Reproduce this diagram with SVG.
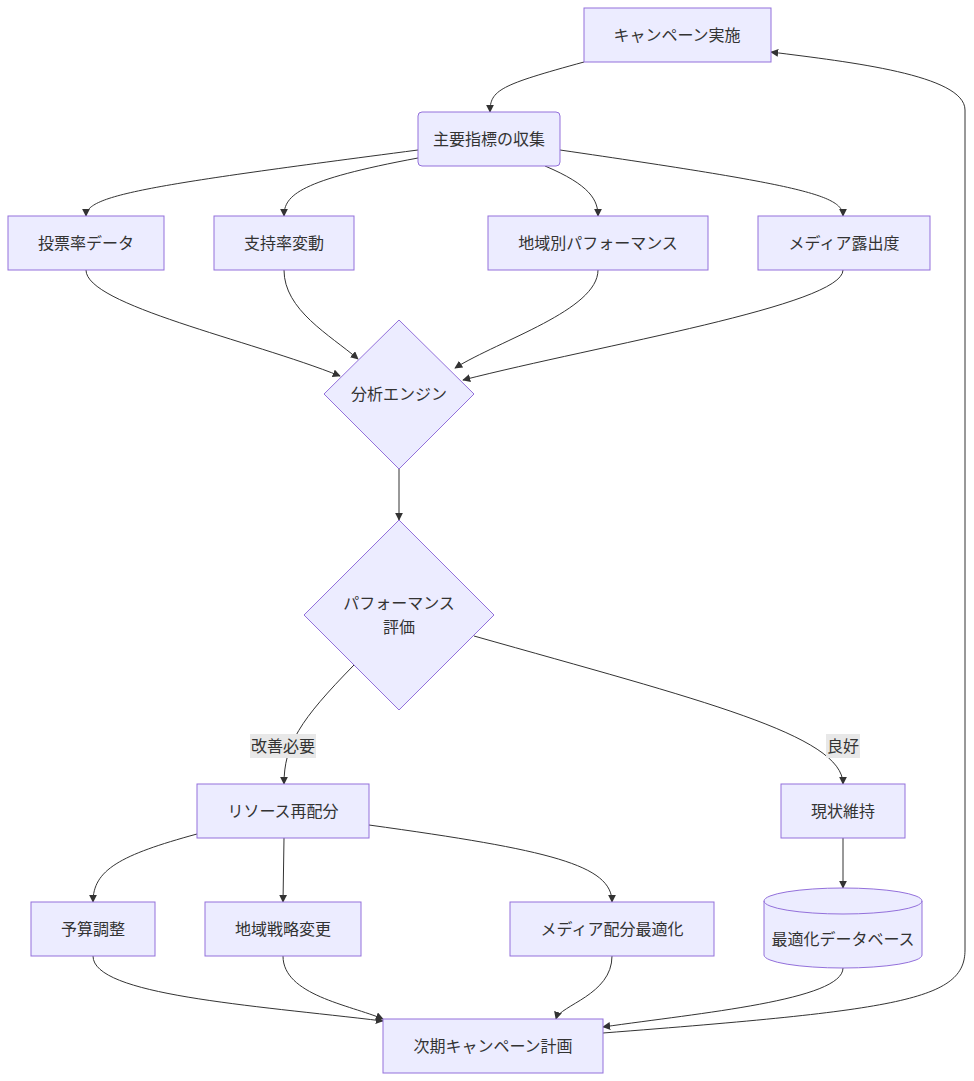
<svg xmlns="http://www.w3.org/2000/svg" width="974" height="1081" viewBox="0 0 974 1081">
<style>
.n{fill:#ECECFF;stroke:#9370DB;stroke-width:1}
.t{font-family:"Liberation Sans","Noto Sans CJK JP",sans-serif;font-size:16px;fill:#333;text-anchor:middle;dominant-baseline:central}
.e{fill:none;stroke:#333;stroke-width:1}
.lb{fill:#e8e8e8}
</style>
<defs><marker id="a" viewBox="0 0 10 10" refX="9" refY="5" markerWidth="8" markerHeight="8" orient="auto"><path d="M0,0L10,5L0,10z" fill="#333"/></marker></defs>
<rect width="974" height="1081" fill="#fff"/>
<g id="edges">
<path class="e" marker-end="url(#a)" d="M584,62 C500,85 490,90 490,112"/>
<path class="e" marker-end="url(#a)" d="M418,150 C150,185 86,195 86,216"/>
<path class="e" marker-end="url(#a)" d="M418,158 C300,180 284,195 284,216"/>
<path class="e" marker-end="url(#a)" d="M545,166 C590,185 598,200 598,216"/>
<path class="e" marker-end="url(#a)" d="M560,150 C800,185 843,195 843,216"/>
<path class="e" marker-end="url(#a)" d="M86,270 C86,305 250,340 340,376"/>
<path class="e" marker-end="url(#a)" d="M284,270 C284,310 330,335 358,359"/>
<path class="e" marker-end="url(#a)" d="M598,270 C598,310 500,340 455,368"/>
<path class="e" marker-end="url(#a)" d="M843,270 C843,305 600,345 463,380"/>
<path class="e" marker-end="url(#a)" d="M399,469 L399,520"/>
<path class="e" marker-end="url(#a)" d="M354,665 C300,720 284,745 284,784"/>
<path class="e" marker-end="url(#a)" d="M474,636 C700,700 843,735 843,784"/>
<path class="e" marker-end="url(#a)" d="M197,834 C120,855 93,870 93,902"/>
<path class="e" marker-end="url(#a)" d="M284,838 L283,902"/>
<path class="e" marker-end="url(#a)" d="M369,825 C550,850 612,865 612,902"/>
<path class="e" marker-end="url(#a)" d="M843,838 L843,888"/>
<path class="e" marker-end="url(#a)" d="M93,956 C93,995 250,1005 383,1021"/>
<path class="e" marker-end="url(#a)" d="M283,956 C283,995 350,1005 383,1019"/>
<path class="e" marker-end="url(#a)" d="M612,956 C612,995 560,1005 556,1019"/>
<path class="e" marker-end="url(#a)" d="M843,968 C843,1000 700,1013 603,1027"/>
<path class="e" marker-end="url(#a)" d="M603,1033 C900,1010 965,1000 965,950 L965,110 C965,75 850,62 771,52"/>
<rect class="lb" x="250" y="734" width="66" height="24"/><text class="t" x="283" y="746">改善必要</text>
<rect class="lb" x="826" y="734" width="34" height="24"/><text class="t" x="843" y="746">良好</text>
</g>
<g id="n1"><rect class="n" x="584" y="8" width="187" height="54"/><text class="t" x="677" y="35">キャンペーン実施</text></g>
<g id="n2"><rect class="n" x="418" y="112" width="142" height="54" rx="4"/><text class="t" x="489" y="139">主要指標の収集</text></g>
<g id="n3"><rect class="n" x="8" y="216" width="156" height="54"/><text class="t" x="86" y="243">投票率データ</text></g>
<g id="n4"><rect class="n" x="214" y="216" width="140" height="54"/><text class="t" x="284" y="243">支持率変動</text></g>
<g id="n5"><rect class="n" x="488" y="216" width="220" height="54"/><text class="t" x="598" y="243">地域別パフォーマンス</text></g>
<g id="n6"><rect class="n" x="758" y="216" width="172" height="54"/><text class="t" x="844" y="243">メディア露出度</text></g>
<g id="n7"><polygon class="n" points="399,320 474,394 399,469 324,394"/><text class="t" x="399" y="394">分析エンジン</text></g>
<g id="n8"><polygon class="n" points="399,520 494,615 399,710 304,615"/><text class="t" x="399" y="603">パフォーマンス</text><text class="t" x="399" y="627">評価</text></g>
<g id="n9"><rect class="n" x="197" y="784" width="172" height="54"/><text class="t" x="283" y="811">リソース再配分</text></g>
<g id="n10"><rect class="n" x="781" y="784" width="124" height="54"/><text class="t" x="843" y="811">現状維持</text></g>
<g id="n11"><rect class="n" x="31" y="902" width="124" height="54"/><text class="t" x="93" y="929">予算調整</text></g>
<g id="n12"><rect class="n" x="205" y="902" width="156" height="54"/><text class="t" x="283" y="929">地域戦略変更</text></g>
<g id="n13"><rect class="n" x="510" y="902" width="204" height="54"/><text class="t" x="612" y="929">メディア配分最適化</text></g>
<g id="n14"><path class="n" d="M764,901 A79,13 0 0 1 922,901 L922,955 A79,13 0 0 1 764,955 Z"/><path class="n" fill="none" d="M764,901 A79,13 0 0 0 922,901" style="fill:none"/><text class="t" x="843" y="939">最適化データベース</text></g>
<g id="n15"><rect class="n" x="383" y="1019" width="220" height="54"/><text class="t" x="493" y="1046">次期キャンペーン計画</text></g>
</svg>
